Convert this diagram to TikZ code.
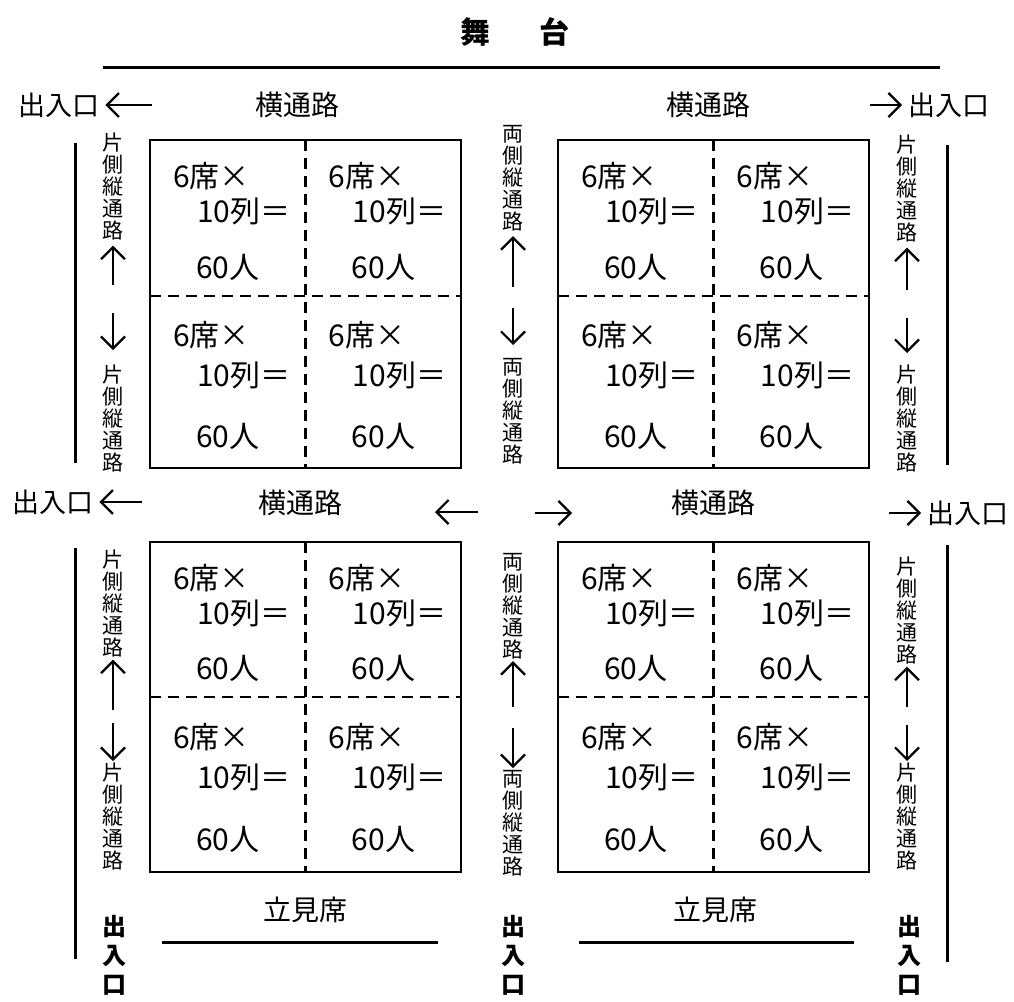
\documentclass[tikz,border=0pt]{standalone}
\usepackage{fontspec}
\usetikzlibrary{arrows.meta}
\newfontfamily\jp{Noto Sans CJK JP}

\tikzset{
    seat/.style={font=\jp\fontsize{30}{36}\selectfont, anchor=west, inner sep=0pt},
    aisle/.style={font=\jp\fontsize{28}{34}\selectfont, inner sep=0pt},
    exitlbl/.style={font=\jp\fontsize{27}{32}\selectfont, inner xsep=6pt, inner ysep=0pt, anchor=west},
    vlabel/.style={font=\jp\fontsize{21}{22}\selectfont, align=center, inner sep=2pt, anchor=north},
    vexit/.style={font=\jp\bfseries\fontsize{24}{29}\selectfont, align=center, inner sep=0pt, anchor=north},
    arr/.style={-{Straight Barb[length=12pt,width=24pt]}, line width=2.2pt},
    blockline/.style={line width=2.8pt},
    divline/.style={line width=2.4pt, dash pattern=on 11pt off 7pt},
    wall/.style={line width=3pt}
}

\begin{document}
\begin{tikzpicture}[x=1pt, y=-1pt]
    \useasboundingbox (0,0) rectangle (1014,1001);

    % Stage
    \node[font=\jp\bfseries\fontsize{30}{36}\selectfont, inner sep=0pt] (stage) at (515,32) {舞\hspace{50pt}台};
    \draw[wall] (103,67) -- (940,67);

    % Seat blocks: left x / top / middle / bottom / name
    \foreach \bx/\by/\bm/\bb/\bn in {150/140/296/468/a, 558/140/296/468/b, 150/542/697/872/c, 558/542/697/872/d} {
        \draw[divline] ({\bx+155.5},\by) -- ({\bx+155.5},\bb);
        \draw[divline] (\bx,\bm) -- ({\bx+311},\bm);
        \draw[blockline] (\bx,\by) rectangle ({\bx+311},\bb);
        \foreach \cx/\ct/\cb/\cn in {\bx/\by/\bm/1, {\bx+155.5}/\by/\bm/2, \bx/\bm/\bb/3, {\bx+155.5}/\bm/\bb/4} {
            \node[seat] (\bn\cn-1) at ({\cx+23},{\ct+0.23*(\cb-\ct)}) {6席×};
            \node[seat] (\bn\cn-2) at ({\cx+47},{\ct+0.46*(\cb-\ct)}) {10列＝};
            \node[seat] (\bn\cn-3) at ({\cx+46},{\ct+0.815*(\cb-\ct)}) {60人};
        }
    }

    % Cross aisles
    \node[aisle] (aisleTL) at (297,105) {横通路};
    \node[aisle] (aisleTR) at (708,105) {横通路};
    \node[aisle] (aisleML) at (300,503) {横通路};
    \node[aisle] (aisleMR) at (713,503) {横通路};

    % Side exits
    \node[exitlbl] (exitTL) at (12,105) {出入口};
    \node[exitlbl] (exitTR) at (902,105) {出入口};
    \node[exitlbl] (exitML) at (6,502) {出入口};
    \node[exitlbl] (exitMR) at (921,513) {出入口};
    \coordinate (exitTLa) at (152,105);
    \coordinate (exitTRa) at (870,105);
    \coordinate (exitMLa) at (142,502);
    \coordinate (exitMRa) at (889,513);
    \draw[arr] (exitTLa) -- (exitTL.east);
    \draw[arr] (exitTRa) -- (exitTR.west);
    \draw[arr] (exitMLa) -- (exitML.east);
    \draw[arr] (exitMRa) -- (exitMR.west);

    % Middle arrows
    \coordinate (midLa) at (478,512);
    \coordinate (midLb) at (435,512);
    \coordinate (midRa) at (535,513);
    \coordinate (midRb) at (572,513);
    \draw[arr] (midLa) -- (midLb);
    \draw[arr] (midRa) -- (midRb);

    % Side walls
    \draw[wall] (75,143) -- (75,463);
    \draw[wall] (75,548) -- (75,959);
    \draw[wall] (947,145) -- (947,465);
    \draw[wall] (947,545) -- (947,962);

    % Upper vertical aisles
    \node[vlabel] (vL1) at (113,131) {片\\側\\縦\\通\\路};
    \node[vlabel] (vL2) at (113,363) {片\\側\\縦\\通\\路};
    \node[vlabel] (vM1) at (513,123) {両\\側\\縦\\通\\路};
    \node[vlabel] (vM2) at (513,356) {両\\側\\縦\\通\\路};
    \node[vlabel] (vR1) at (907,133) {片\\側\\縦\\通\\路};
    \node[vlabel] (vR2) at (907,363) {片\\側\\縦\\通\\路};
    \coordinate (uL1) at (113,285);
    \coordinate (dL1) at (113,313);
    \coordinate (uM1) at (513,287);
    \coordinate (dM1) at (513,308);
    \coordinate (uR1) at (907,290);
    \coordinate (dR1) at (907,318);
    \draw[arr, shorten >=3pt] (uL1) -- (vL1.south);
    \draw[arr, shorten >=13pt] (dL1) -- (vL2.north);
    \draw[arr, shorten >=3pt] (uM1) -- (vM1.south);
    \draw[arr, shorten >=11pt] (dM1) -- (vM2.north);
    \draw[arr, shorten >=3pt] (uR1) -- (vR1.south);
    \draw[arr, shorten >=10pt] (dR1) -- (vR2.north);

    % Lower vertical aisles
    \node[vlabel] (vL3) at (113,548) {片\\側\\縦\\通\\路};
    \node[vlabel] (vL4) at (113,761) {片\\側\\縦\\通\\路};
    \node[vlabel] (vM3) at (513,551) {両\\側\\縦\\通\\路};
    \node[vlabel] (vM4) at (513,768) {両\\側\\縦\\通\\路};
    \node[vlabel] (vR3) at (907,555) {片\\側\\縦\\通\\路};
    \node[vlabel] (vR4) at (907,761) {片\\側\\縦\\通\\路};
    \coordinate (uL3) at (113,710);
    \coordinate (dL3) at (113,723);
    \coordinate (uM3) at (513,707);
    \coordinate (dM3) at (513,728);
    \coordinate (uR3) at (907,707);
    \coordinate (dR3) at (907,725);
    \draw[arr] (uL3) -- (vL3.south);
    \draw[arr] (dL3) -- (vL4.north);
    \draw[arr] (uM3) -- (vM3.south);
    \draw[arr] (dM3) -- (vM4.north);
    \draw[arr] (uR3) -- (vR3.south);
    \draw[arr] (dR3) -- (vR4.north);

    % Standing area
    \node[aisle] (standL) at (305,910) {立見席};
    \node[aisle] (standR) at (715,910) {立見席};
    \draw[wall] (162,942) -- (438,942);
    \draw[wall] (579,942) -- (854,942);

    % Rear exits
    \node[vexit] (exitB1) at (114,915) {出\\入\\口};
    \node[vexit] (exitB2) at (513,915) {出\\入\\口};
    \node[vexit] (exitB3) at (909,915) {出\\入\\口};
\end{tikzpicture}
\end{document}
